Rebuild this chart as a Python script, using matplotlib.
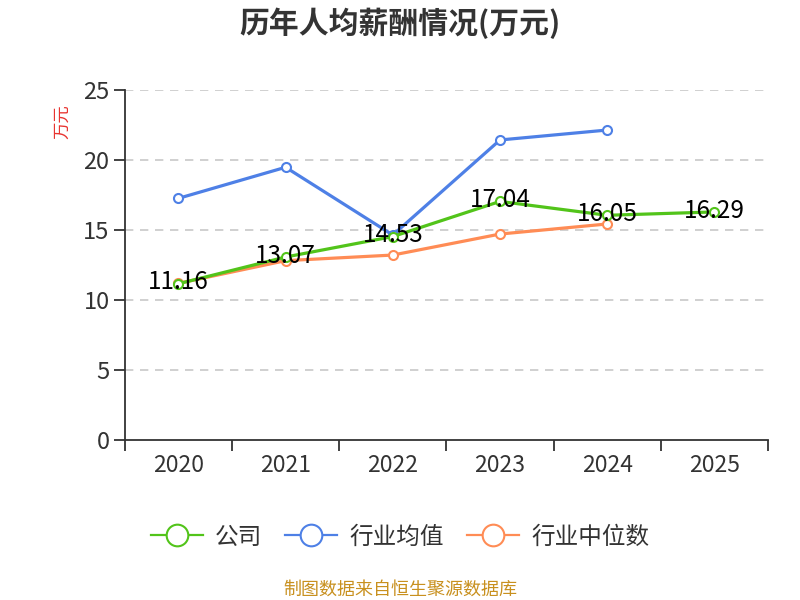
import matplotlib
matplotlib.use('Agg')
import matplotlib.pyplot as plt
import numpy as np

plt.rcParams['font.family'] = ['Noto Sans CJK SC', 'DejaVu Sans']

years = ['2020', '2021', '2022', '2023', '2024', '2025']
company = [11.16, 13.07, 14.53, 17.04, 16.05, 16.29]
ind_mean = [17.26, 19.48, 14.64, 21.43, 22.14]
ind_median = [11.19, 12.81, 13.21, 14.71, 15.43]

c_green = '#52c41a'
c_blue = '#4e80e6'
c_orange = '#ff8c55'

fig = plt.figure(figsize=(8, 6), dpi=100)
ax = fig.add_axes([0.156, 0.2667, 0.804, 0.5833])

x = np.arange(len(years))
ax.plot(x[:len(ind_mean)], ind_mean, '-o', color=c_blue, lw=2.3, ms=6.5,
        mfc='white', mew=1.5, label='行业均值', zorder=3)
ax.plot(x[:len(ind_median)], ind_median, '-o', color=c_orange, lw=2.3, ms=6.5,
        mfc='white', mew=1.5, label='行业中位数', zorder=3)
ax.plot(x, company, '-o', color=c_green, lw=2.3, ms=6.5,
        mfc='white', mew=1.5, label='公司', zorder=4)

# 数据标签
for xi, yi in zip(x, company):
    ax.text(xi, yi + 0.1, '%.2f' % yi, ha='center', va='center', fontsize=17.5,
            color='black', zorder=5)

ax.set_xlim(-0.5, len(years) - 0.5)
ax.set_ylim(0, 25)
ax.set_yticks([0, 5, 10, 15, 20, 25])
ax.set_xticks(x)
ax.set_xticklabels(years)
ax.set_xticks(np.arange(-0.5, len(years)), minor=True)
ax.tick_params(axis='x', which='major', length=0, pad=10, labelsize=16.5, labelcolor='#333333')
ax.tick_params(axis='x', which='minor', length=8, width=1.3, color='#333333')
ax.tick_params(axis='y', length=8, width=1.3, color='#333333', labelsize=17,
               labelcolor='#333333', pad=3)

for s in ['top', 'right']:
    ax.spines[s].set_visible(False)
for s in ['left', 'bottom']:
    ax.spines[s].set_color('#333333')
    ax.spines[s].set_linewidth(1.3)

for v in [5, 10, 15, 20, 25]:
    ax.axhline(v, color='#c8c8c8', lw=1.2, ls=(0, (5, 4)), zorder=1)

fig.text(0.078, 0.797, '万元', color='#e8322e', fontsize=12.5, rotation=90,
         ha='center', va='center')

fig.text(0.5, 0.962, '历年人均薪酬情况(万元)', ha='center', va='center',
         fontsize=21.5, fontweight='bold', color='#333333')

handles, labels = ax.get_legend_handles_labels()
order = [2, 0, 1]
leg = fig.legend([handles[i] for i in order], [labels[i] for i in order],
                 loc='center', bbox_to_anchor=(0.5, 0.105), ncol=3, frameon=False,
                 fontsize=17, handlelength=2.2, columnspacing=1.0,
                 handletextpad=0.5, markerscale=2.4)
for t in leg.get_texts():
    t.set_color('#333333')
for h in leg.legend_handles:
    h.set_linewidth(1.6)

fig.text(0.5, 0.017, '制图数据来自恒生聚源数据库', ha='center', va='center',
         fontsize=13, color='#c8901e')

fig.savefig('out.png', dpi=100)
